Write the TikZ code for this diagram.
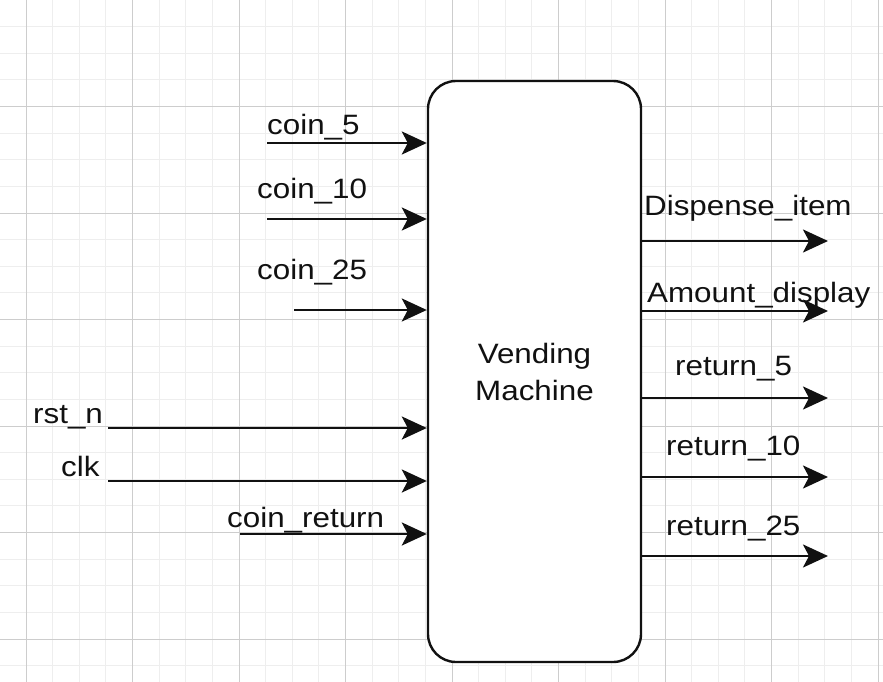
\documentclass[tikz,border=0pt]{standalone}
\usepackage{fontspec}
\setmainfont{Liberation Sans}
\usetikzlibrary{arrows.meta}
\definecolor{gridminor}{HTML}{EEEEEE}
\definecolor{gridmajor}{HTML}{CDCDCD}
\definecolor{ink}{HTML}{111111}
\newcommand{\sx}[1]{\scalebox{1.12}[1]{#1}}
\begin{document}
\begin{tikzpicture}[x=1pt,y=-1pt,
  lbl/.style={anchor=base west, inner sep=0pt, text=ink, font=\fontsize{28}{34}\selectfont},
  sig/.style={line width=2.5pt, draw=ink, -{Stealth[length=25pt,width=23pt,inset=6pt]}},
  blockbox/.style={draw=ink, line width=2.4pt, fill=white, rounded corners=28pt,
    minimum width=213pt, minimum height=581pt, inner sep=0pt, align=center,
    text=ink, font=\fontsize{28}{37}\selectfont}]
\useasboundingbox (0,0) rectangle (883,682);
\fill[white] (0,0) rectangle (883,682);
% grid
\foreach \k in {0,...,34} {
  \pgfmathsetmacro\gx{round(-1.1+26.625*\k)+0.5}
  \draw[gridminor, line width=1pt] (\gx,0) -- (\gx,682);
}
\foreach \k in {0,...,26} {
  \pgfmathsetmacro\gy{round(-0.5+26.625*\k)+0.5}
  \draw[gridminor, line width=1pt] (0,\gy) -- (883,\gy);
}
\foreach \k in {0,...,8} {
  \pgfmathsetmacro\gx{round(25.5+106.5*\k)+0.5}
  \draw[gridmajor, line width=1.2pt] (\gx,0) -- (\gx,682);
}
\foreach \k in {0,...,6} {
  \pgfmathsetmacro\gy{round(-0.5+106.5*\k)+0.5}
  \draw[gridmajor, line width=1.2pt] (0,\gy) -- (883,\gy);
}
% block
\node[blockbox] (vm) at (534.5,371.5) {\sx{Vending}\\\sx{Machine}};
% input start points
\coordinate (i5) at (267,143);
\coordinate (i10) at (267,219);
\coordinate (i25) at (294,310);
\coordinate (irst) at (108,428);
\coordinate (iclk) at (108,481);
\coordinate (iret) at (240,534);
% output end points
\coordinate (oD) at (828,241);
\coordinate (oA) at (828,311);
\coordinate (o5) at (828,398);
\coordinate (o10) at (828,477);
\coordinate (o25) at (828,556);
% input connectors
\foreach \c in {i5,i10,i25,irst,iclk,iret} \draw[sig] (\c) -- (\c -| vm.west);
% output connectors
\foreach \c in {oD,oA,o5,o10,o25} \draw[sig] (\c -| vm.east) -- (\c);
% labels
\node[lbl] (l5) at (267,135) {\sx{coin\_5}};
\node[lbl] (l10) at (257,198) {\sx{coin\_10}};
\node[lbl] (l25) at (257,279) {\sx{coin\_25}};
\node[lbl] (lrst) at (33,423) {\sx{rst\_n}};
\node[lbl] (lclk) at (61,476) {\sx{clk}};
\node[lbl] (lret) at (227,527) {\sx{coin\_return}};
\node[lbl] (lD) at (644,215) {\sx{Dispense\_item}};
\node[lbl] (lA) at (647,302) {\sx{Amount\_display}};
\node[lbl] (lr5) at (675,375) {\sx{return\_5}};
\node[lbl] (lr10) at (666,455) {\sx{return\_10}};
\node[lbl] (lr25) at (666,535) {\sx{return\_25}};
\end{tikzpicture}
\end{document}
